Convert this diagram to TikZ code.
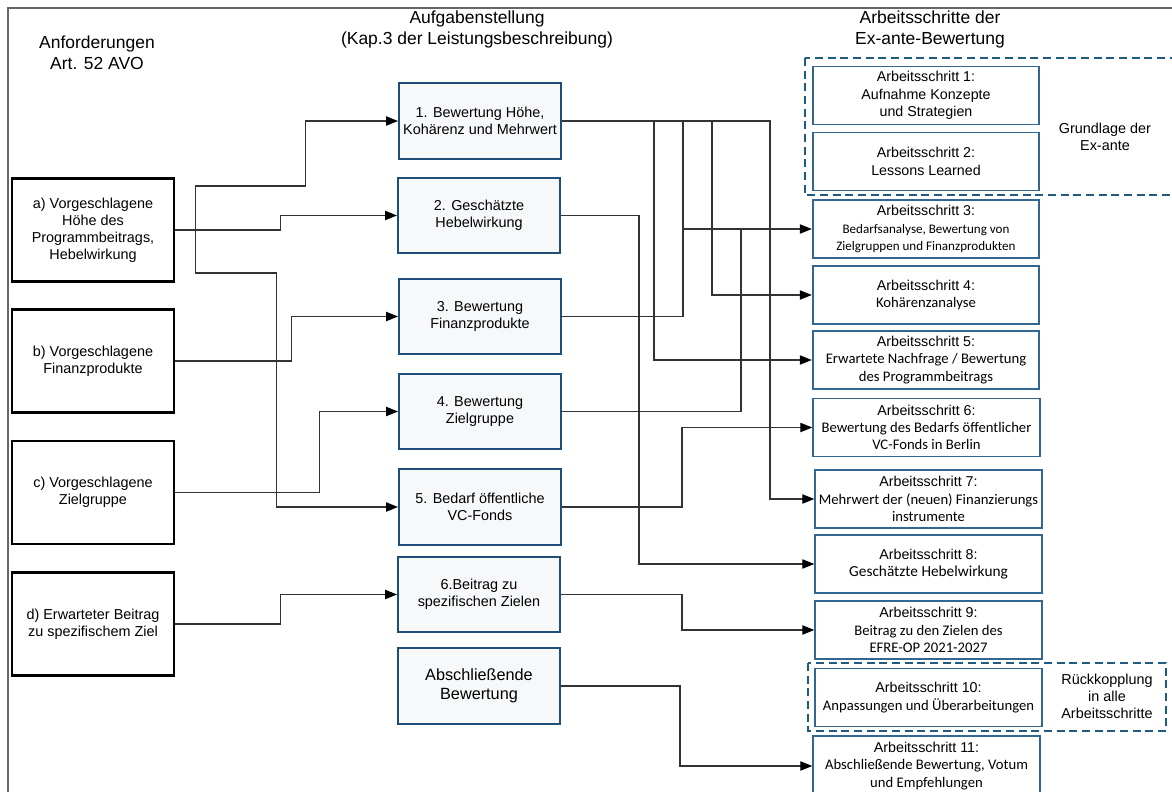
\documentclass[tikz,border=0pt]{standalone}
\usepackage{fontspec}
\setmainfont{Liberation Sans}
\newfontfamily\calib{Carlito}
\usetikzlibrary{arrows.meta,calc}
\definecolor{boxblue}{HTML}{1F4E79}
\definecolor{rblue}{HTML}{346790}
\definecolor{dblue}{HTML}{1F5A80}
\definecolor{linec}{HTML}{333333}
\definecolor{fillg}{HTML}{F7F8FA}
\definecolor{framec}{HTML}{666666}
\newcommand{\cb}[1]{{\calib\fontsize{11}{12.8}\selectfont #1}}
\newcommand{\cbs}[1]{{\calib\fontsize{9.8}{12}\selectfont #1}}
\tikzset{
  lbox/.style={draw=black, line width=1.8pt, fill=white, minimum width=121.5pt, minimum height=77pt, align=center, inner sep=2pt, font=\fontsize{10.8}{12.8}\selectfont},
  mbox/.style={draw=boxblue, line width=1.5pt, fill=fillg, minimum width=121.5pt, minimum height=56.5pt, align=center, inner sep=2pt, font=\fontsize{10.8}{12.8}\selectfont},
  rbox/.style={draw=rblue, line width=1.3pt, fill=white, minimum width=170pt, minimum height=43.5pt, align=center, inner sep=1pt, font=\fontsize{10.7}{12.9}\selectfont},
  conn/.style={draw=linec, line width=0.8pt, -{Triangle[length=9pt,width=7pt,color=black]}},
  wire/.style={draw=linec, line width=0.8pt},
  dashbox/.style={draw=dblue, line width=1.8pt, dash pattern=on 6pt off 3.5pt},
  hdr/.style={align=center, font=\fontsize{13.1}{15.6}\selectfont},
  lbl/.style={align=center, font=\fontsize{10.8}{12.8}\selectfont},
}
\begin{document}
\begin{tikzpicture}[x=0.75pt,y=-0.75pt]
\useasboundingbox (0,0) rectangle (1172,792);
\clip (0,0) rectangle (1172,792);
\fill[white] (0,0) rectangle (1172,792);
% frame
\draw[framec, line width=1pt] (8,800) -- (8,8) -- (1190,8);

% headers
\node[hdr] (h1) at (97,53) {Anforderungen\\Art. 52 AVO};
\node[hdr] (h2) at (477,29.5) {Aufgabenstellung\\(Kap.3 der Leistungsbeschreibung)};
\node[hdr] (h3) at (930,29.5) {Arbeitsschritte der\\Ex-ante-Bewertung};

% left boxes
\node[lbox] (a) at (93,230) {a) Vorgeschlagene\\Höhe des\\Programmbeitrags,\\Hebelwirkung};
\node[lbox] (b) at (93,361) {b) Vorgeschlagene\\Finanzprodukte};
\node[lbox] (c) at (93,492.5) {c) Vorgeschlagene\\Zielgruppe};
\node[lbox] (d) at (93,624) {d) Erwarteter Beitrag\\zu spezifischem Ziel};

% middle boxes
\node[mbox] (m1) at (480,121) {1. Bewertung Höhe,\\Kohärenz und Mehrwert};
\node[mbox] (m2) at (479,215.5) {2. Geschätzte\\Hebelwirkung};
\node[mbox] (m3) at (480,316.5) {3. Bewertung\\Finanzprodukte};
\node[mbox] (m4) at (480,411.5) {4. Bewertung\\Zielgruppe};
\node[mbox] (m5) at (480,507) {5. Bedarf öffentliche\\VC-Fonds};
\node[mbox] (m6) at (479,594.5) {6.Beitrag zu\\spezifischen Zielen};
\node[mbox, font=\fontsize{12.2}{14}\selectfont] (m7) at (479,686) {Abschließende\\Bewertung};

% dashed groups
\draw[dashbox] (805,58) rectangle (1190,195);
\draw[dashbox] (808,663) rectangle (1166,731);

% right boxes
\node[rbox] (r1) at (926,95.5) {Arbeitsschritt 1:\\Aufnahme Konzepte\\und Strategien};
\node[rbox] (r2) at (926,161.5) {Arbeitsschritt 2:\\Lessons Learned};
\node[rbox] (r3) at (926,229) {Arbeitsschritt 3:\\\cbs{Bedarfsanalyse, Bewertung von}\\\cbs{Zielgruppen und Finanzprodukten}};
\node[rbox] (r4) at (926,295) {Arbeitsschritt 4:\\\cb{Kohärenzanalyse}};
\node[rbox] (r5) at (926,360) {Arbeitsschritt 5:\\\cb{Erwartete Nachfrage / Bewertung}\\\cb{des Programmbeitrags}};
\node[rbox] (r6) at (926.5,427.5) {Arbeitsschritt 6:\\\cb{Bewertung des Bedarfs öffentlicher}\\\cb{VC-Fonds in Berlin}};
\node[rbox] (r7) at (928.5,499) {Arbeitsschritt 7:\\\cb{Mehrwert der (neuen) Finanzierungs}\\\cb{instrumente}};
\node[rbox] (r8) at (928.5,564) {Arbeitsschritt 8:\\{\calib\fontsize{11.5}{13}\selectfont Geschätzte Hebelwirkung}};
\node[rbox] (r9) at (928.5,630) {Arbeitsschritt 9:\\\cb{Beitrag zu den Zielen des}\\\cb{EFRE-OP 2021-2027}};
\node[rbox] (r10) at (928.5,697.5) {Arbeitsschritt 10:\\\cb{Anpassungen und Überarbeitungen}};
\node[rbox, minimum height=45pt] (r11) at (926.5,766) {Arbeitsschritt 11:\\\cb{Abschließende Bewertung, Votum}\\\cb{und Empfehlungen}};

% side labels
\node[lbl] (g) at (1105,136.5) {Grundlage der\\Ex-ante};
\node[lbl] (rk) at (1107,696) {Rückkopplung\\in alle\\Arbeitsschritte};

% left connectors
\draw[conn] (a.east) -- ++(105,0) |- (m2.west);
\draw[wire] (a.east) -- ++(20,0) coordinate (ja);
\draw[conn] (ja) -- ++(0,-44) -- ++(110,0) |- (m1.west);
\draw[conn] (ja) -- ++(0,43) -- ++(81,0) |- (m5.west);
\draw[conn] (b.east) -- ++(116,0) |- (m3.west);
\draw[conn] (c.east) -- ++(144,0) |- (m4.west);
\draw[conn] (d.east) -- ++(105,0) |- (m6.west);

% right connectors
\draw[conn] (m1.east) -- ++(208,0) |- (r7.west);
\path (m1.east) ++(92,0) coordinate (j1) ++(29,0) coordinate (j2) ++(29,0) coordinate (j3);
\draw[conn] (j1) |- (r5.west);
\draw[conn] (j2) |- (r3.west);
\draw[conn] (j3) |- (r4.west);
\draw[wire] (m3.east) -| (j2);
\draw[wire] (m4.east) -- ++(179,0) coordinate (k4) -- (k4 |- r3.west);
\draw[conn] (m2.east) -- ++(78,0) |- (r8.west);
\draw[conn] (m5.east) -- ++(120,0) |- (r6.west);
\draw[conn] (m6.east) -- ++(121,0) |- (r9.west);
\draw[conn] (m7.east) -- ++(119,0) |- (r11.west);
\end{tikzpicture}
\end{document}
